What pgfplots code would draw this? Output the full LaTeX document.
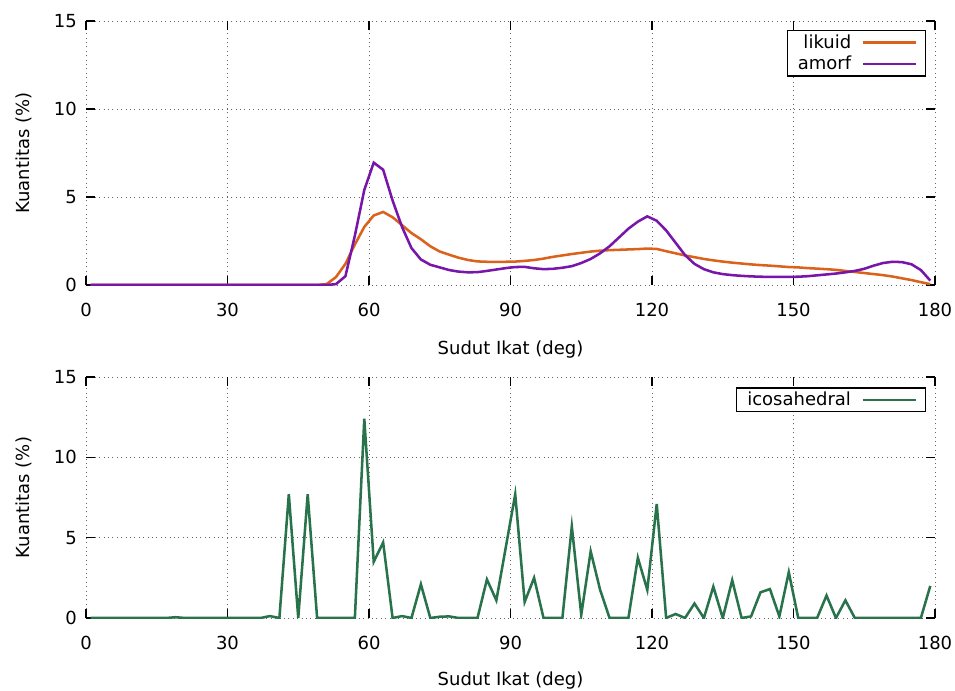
\documentclass[border=0pt]{standalone}
\usepackage{fontspec}
\setmainfont{DejaVu Sans}
\usepackage{pgfplots}
\usepackage{pgfplotstable}
\pgfplotsset{compat=1.18}
\definecolor{cliq}{RGB}{218,98,28}
\definecolor{camo}{RGB}{120,22,170}
\definecolor{cico}{RGB}{40,115,75}
\newcommand{\lf}{\fontsize{13.5}{16}\selectfont}

\pgfplotstableread{
x likuid amorf
1 0 0
3 0 0
5 0 0
7 0 0
9 0 0
11 0 0
13 0 0
15 0 0
17 0 0
19 0 0
21 0 0
23 0 0
25 0 0
27 0 0
29 0 0
31 0 0
33 0 0
35 0 0
37 0 0
39 0 0
41 0 0
43 0 0
45 0 0
47 0 0
49 0 0
51 0.05 0
53 0.45 0.05
55 1.2 0.5
57 2.3 2.8
59 3.3 5.4
61 3.95 6.95
63 4.15 6.55
65 3.85 4.8
67 3.4 3.3
69 2.95 2.1
71 2.6 1.45
73 2.2 1.15
75 1.9 1.0
77 1.72 0.85
79 1.55 0.76
81 1.42 0.72
83 1.34 0.73
85 1.32 0.8
87 1.32 0.88
89 1.32 0.96
91 1.33 1.02
93 1.37 1.03
95 1.42 0.95
97 1.5 0.9
99 1.6 0.92
101 1.68 0.98
103 1.76 1.07
105 1.83 1.25
107 1.9 1.48
109 1.95 1.8
111 1.98 2.2
113 2.0 2.7
115 2.02 3.2
117 2.04 3.6
119 2.07 3.9
121 2.05 3.65
123 1.92 3.1
125 1.8 2.4
127 1.68 1.7
129 1.58 1.2
131 1.48 0.9
133 1.4 0.72
135 1.33 0.62
137 1.27 0.56
139 1.22 0.52
141 1.17 0.49
143 1.13 0.47
145 1.1 0.46
147 1.06 0.46
149 1.02 0.46
151 1.0 0.47
153 0.96 0.5
155 0.93 0.55
157 0.9 0.6
159 0.86 0.65
161 0.8 0.72
163 0.74 0.8
165 0.68 0.92
167 0.62 1.1
169 0.56 1.25
171 0.48 1.32
173 0.38 1.3
175 0.28 1.18
177 0.16 0.85
179 0.05 0.25
}\toptable

\pgfplotstableread{
x ico
1 0
3 0
5 0
7 0
9 0
11 0
13 0
15 0
17 0
19 0.05
21 0
23 0
25 0
27 0
29 0
31 0
33 0
35 0
37 0
39 0.12
41 0
43 7.7
45 0
47 7.7
49 0
51 0
53 0
55 0
57 0
59 12.4
61 3.5
63 4.7
65 0
67 0.12
69 0
71 2.1
73 0
75 0.08
77 0.1
79 0
81 0
83 0
85 2.4
87 1.1
89 4.4
91 7.7
93 1.0
95 2.5
97 0
99 0
101 0
103 5.7
105 0.2
107 4.15
109 1.75
111 0
113 0
115 0
117 3.75
119 1.75
121 7.1
123 0
125 0.25
127 0
129 0.9
131 0
133 1.95
135 0
137 2.35
139 0
141 0.1
143 1.6
145 1.8
147 0.1
149 2.85
151 0
153 0
155 0
157 1.4
159 0
161 1.1
163 0
165 0
167 0
169 0
171 0
173 0
175 0
177 0
179 2.0
}\bottable

\pgfplotsset{
  myax/.style={
    scale only axis,
    width=636.75pt,
    xmin=0, xmax=180, ymin=0, ymax=15,
    xtick={0,30,60,90,120,150,180},
    ytick={0,5,10,15},
    axis line style={draw=none},
    tick align=inside,
    tick pos=both,
    major tick length=6.75pt,
    every tick/.style={black, line width=1pt},
    grid=major,
    major grid style={black!60, line width=0.6pt, dash pattern=on 0.7pt off 2.6pt},
    /pgf/number format/assume math mode=true,
    tick label style={font=\lf},
    label style={font=\lf},
    xticklabel style={anchor=base, yshift=-23.6pt},
    yticklabel style={anchor=east, inner sep=0pt, xshift=-6.75pt},
    ylabel={Kuantitas (\%)},
    xlabel={Sudut Ikat (deg)},
    ylabel style={at={(axis description cs:-0.0736,0.5)}, anchor=center},
    legend plot pos=right,
    legend cell align=right,
    legend image code/.code={\draw[##1] (0pt,0pt) -- (39.75pt,0pt);},
    legend style={font=\lf, draw=black, line width=0.9pt, inner xsep=6pt, inner ysep=1pt,
      column sep=6pt, row sep=0.5pt, anchor=north east},
  }
}

\begin{document}
\begin{tikzpicture}
\path[use as bounding box] (0,0) rectangle (716.25pt,-518.25pt);
\begin{axis}[myax,
  height=198pt,
  at={(64.5pt,-213.75pt)}, anchor=south west,
  xlabel style={at={(axis description cs:0.5,-0.2614)}, anchor=base},
  legend style={at={(axis description cs:0.9894,0.9659)}},
]
\addplot[cliq, line width=1.9pt] table[x=x, y=likuid] {\toptable};
\addlegendentry{likuid}
\addplot[camo, line width=1.9pt] table[x=x, y=amorf] {\toptable};
\addlegendentry{amorf}
\end{axis}
\begin{axis}[myax,
  height=180.75pt,
  at={(64.5pt,-463.5pt)}, anchor=south west,
  xlabel style={at={(axis description cs:0.5,-0.278)}, anchor=base},
  legend style={at={(axis description cs:0.9891,0.957)}},
]
\addplot[cico, line width=1.9pt] table[x=x, y=ico] {\bottable};
\addlegendentry{icosahedral}
\end{axis}
\end{tikzpicture}
\end{document}
